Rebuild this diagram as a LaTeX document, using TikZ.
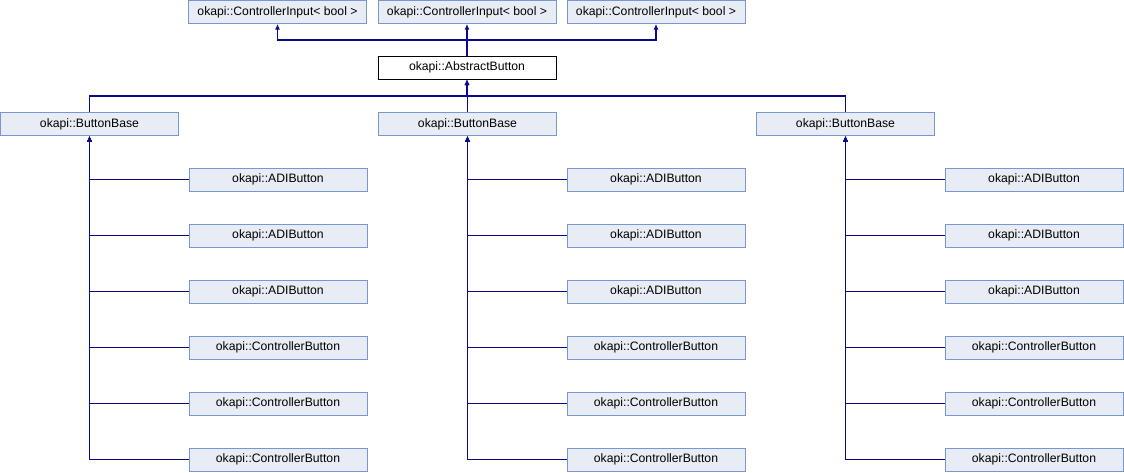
\documentclass[tikz,border=0pt]{standalone}
\usepackage{fontspec}
\setmainfont{Liberation Sans}
\usetikzlibrary{arrows.meta}
\definecolor{cfill}{RGB}{232,236,245}
\definecolor{cborder}{RGB}{120,150,208}
\definecolor{cedge}{RGB}{10,10,140}
\begin{document}
\begin{tikzpicture}[x=1pt, y=-1pt, font=\fontsize{12.2}{14}\selectfont,
  cls/.style={draw=cborder, fill=cfill, minimum width=178pt,
              minimum height=23pt, inner sep=0pt, line width=1pt},
  cur/.style={cls, draw=black, fill=white},
  edge/.style={-{Latex[length=5.5pt,width=5pt]}, cedge, line width=1.1pt},
]
\useasboundingbox (0,0) rectangle (1124,472);
% --- template bases ----------------------------------------------------
\node[cls] (ciA) at (277.5,12) {okapi::ControllerInput< bool >};
\node[cls] (ciB) at (467,12) {okapi::ControllerInput< bool >};
\node[cls] (ciC) at (656,12) {okapi::ControllerInput< bool >};
% --- the class itself --------------------------------------------------
\node[cur] (abs) at (467,67.5) {okapi::AbstractButton};
\coordinate (topbus) at (467,40);
\draw[edge] (abs.north) -- (ciB.south);
\draw[edge] (topbus) -| (ciA.south);
\draw[edge] (topbus) -| (ciC.south);
% --- button bases, one per column -------------------------------------
\coordinate (midbus) at (467,96);
\foreach \col/\x in {1/89.5, 2/467.5, 3/845.5} {
  \node[cls] (base\col) at (\x,124) {okapi::ButtonBase};
  \draw[edge] (base\col.north) |- (midbus) -- (abs.south);
}
% --- derived buttons (hang off the left trunk of each base) ------------
\foreach \col/\x in {1/278, 2/656, 3/1034} {
  \foreach \row/\y/\name in {1/179.5/ADIButton, 2/235.5/ADIButton,
      3/291.5/ADIButton, 4/347.5/ControllerButton,
      5/403.5/ControllerButton, 6/459.5/ControllerButton} {
    \node[cls] (btn\col\row) at (\x,\y) {okapi::\name};
    \draw[edge] (btn\col\row.west) -| (base\col.south);
  }
}
\end{tikzpicture}
\end{document}
